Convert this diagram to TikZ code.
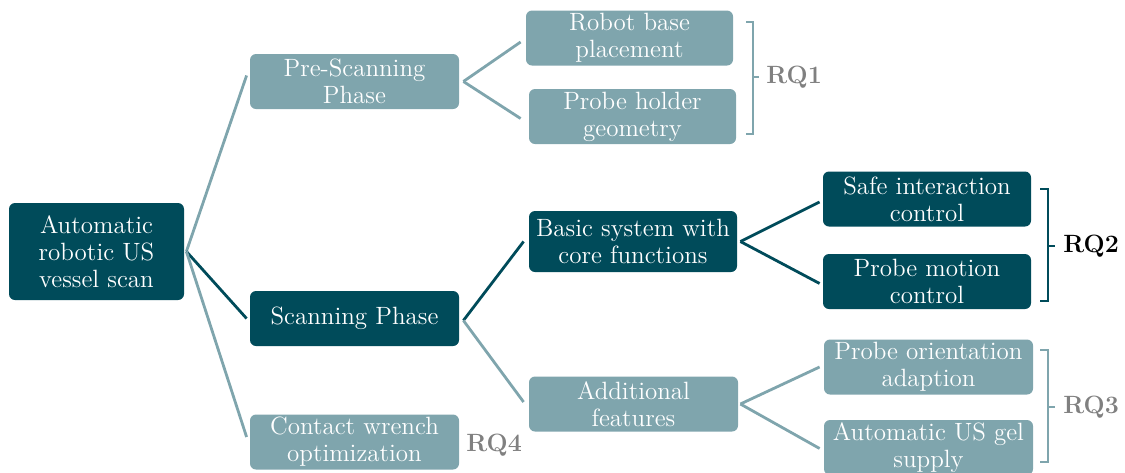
\documentclass[tikz,border=0pt]{standalone}
\usepackage{xcolor}
\definecolor{tdark}{RGB}{0,75,90}
\definecolor{tlight}{RGB}{127,165,173}
\definecolor{rqgray}{RGB}{128,128,128}
\begin{document}
\begin{tikzpicture}[x=0.5pt,y=-0.5pt,
  box/.style={rounded corners=3pt, text=white, align=center, inner sep=1pt,
    font=\fontsize{12.5}{13.5}\selectfont, minimum width=104.5pt, minimum height=27.5pt},
  dbox/.style={box, fill=tdark},
  lbox/.style={box, fill=tlight},
  dline/.style={draw=tdark, line width=1.4pt},
  lline/.style={draw=tlight, line width=1.4pt},
  brk/.style={line width=1.4pt},
  rq/.style={font=\fontsize{12.5}{13.5}\selectfont\bfseries, anchor=west, inner sep=0pt}]
\useasboundingbox (0,0) rectangle (1125,472);
% nodes
\node[dbox, minimum width=87.5pt, minimum height=48.5pt] (root) at (96.5,251.5) {Automatic\\robotic US\\vessel scan};
\node[lbox] (pre) at (354.5,81.5) {Pre-Scanning\\Phase};
\node[dbox] (scan) at (354.5,318.5) {Scanning Phase};
\node[lbox] (cw) at (354.5,442) {Contact wrench\\optimization};
\node[lbox, minimum width=103.5pt] (rb) at (629.5,38) {Robot base\\placement};
\node[lbox, minimum width=103.5pt] (ph) at (632.5,116.5) {Probe holder\\geometry};
\node[dbox, minimum width=104pt, minimum height=30.5pt] (bs) at (633,241.5) {Basic system with\\core functions};
\node[lbox] (af) at (633.5,404) {Additional\\features};
\node[dbox, minimum width=104pt] (si) at (927,199) {Safe interaction\\control};
\node[dbox, minimum width=104pt] (pm) at (927,281.5) {Probe motion\\control};
\node[lbox] (po) at (928.5,367) {Probe orientation\\adaption};
\node[lbox] (gel) at (928.5,447.5) {Automatic US gel\\supply};
% connectors
\draw[lline] ([xshift=1pt]root.east) -- ([xshift=-1.5pt,yshift=3pt]pre.west);
\draw[dline] ([xshift=1pt]root.east) -- ([xshift=-1.5pt]scan.west);
\draw[lline] ([xshift=1pt]root.east) -- ([xshift=-1.5pt,yshift=2.5pt]cw.west);
\draw[lline] ([xshift=2pt]pre.east) -- ([xshift=-2.5pt,yshift=-2pt]rb.west);
\draw[lline] ([xshift=2pt]pre.east) -- ([xshift=-4pt,yshift=-1pt]ph.west);
\draw[dline] ([xshift=2pt,yshift=-1pt]scan.east) -- ([xshift=-2.5pt]bs.west);
\draw[lline] ([xshift=2pt,yshift=-1pt]scan.east) -- ([xshift=-2.5pt,yshift=1pt]af.west);
\draw[dline] ([xshift=1.5pt]bs.east) -- ([xshift=-1.5pt,yshift=-1.5pt]si.west);
\draw[dline] ([xshift=1.5pt]bs.east) -- ([xshift=-1.5pt,yshift=-1pt]pm.west);
\draw[lline] ([xshift=1pt]af.east) -- ([xshift=-2pt]po.west);
\draw[lline] ([xshift=1pt]af.east) -- ([xshift=-2pt,yshift=-0.5pt]gel.west);
% brackets
\draw[brk, tlight] (746,22) -- (753,22) -- (753,134) -- (746,134);
\draw[brk, tlight] (753,77) -- (759,77);
\node[rq, text=rqgray] (rq1) at (766,77) {RQ1};
\draw[brk, tdark] (1040,189) -- (1048,189) -- (1048,301) -- (1040,301);
\draw[brk, tdark] (1048,246) -- (1055,246);
\node[rq, text=black] (rq2) at (1063,246) {RQ2};
\draw[brk, tlight] (1040,350) -- (1048,350) -- (1048,462) -- (1040,462);
\draw[brk, tlight] (1048,407) -- (1055,407);
\node[rq, text=rqgray] (rq3) at (1063,407) {RQ3};
\node[rq, text=rqgray] (rq4) at (466,445) {RQ4};
\end{tikzpicture}
\end{document}
